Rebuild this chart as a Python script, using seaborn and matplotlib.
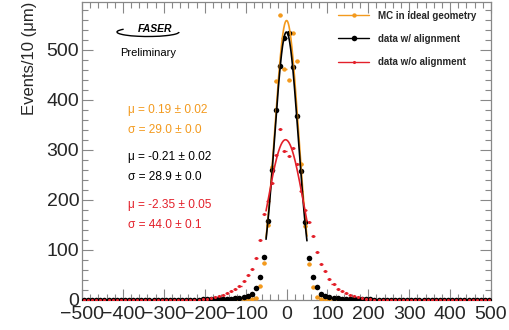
import numpy as np
import pandas as pd
import matplotlib
matplotlib.use("Agg")
import matplotlib.pyplot as plt
import seaborn as sns
from matplotlib.lines import Line2D
from matplotlib.patches import Arc
from matplotlib.ticker import MultipleLocator

# ---------------- data ----------------
bin_centers = list(range(-495, 500, 10))
pad = [0] * 29
mc_counts = pad + [0, 0, 0, 0, 0, 0, 0, 0, 0, 0, 1, 1, 2, 4, 27, 73, 150, 265, 437, 570, 461,
                   440, 533, 478, 272, 147, 72, 25, 5, 2, 1, 1, 0, 0, 0, 0, 0, 0, 0, 0, 0, 0] + pad
aligned_counts = pad + [1, 1, 1, 1, 1, 1, 2, 2, 3, 4, 5, 7, 11, 24, 45, 85, 157, 259, 380, 467, 523,
                        533, 465, 367, 257, 155, 83, 46, 26, 11, 7, 5, 4, 3, 2, 2, 1, 1, 1, 1, 1, 1] + pad
unaligned_counts = pad + [1, 2, 3, 5, 7, 10, 14, 18, 21, 27, 37, 50, 61, 83, 120, 171, 197, 233, 290, 342, 297,
                          287, 303, 272, 217, 179, 155, 127, 95, 72, 57, 42, 31, 22, 17, 13, 10, 7, 5, 3, 2, 1] + pad

series_names = ["MC in ideal geometry", "data w/ alignment", "data w/o alignment"]
fit_mu = [0.19, -0.21, -2.35]
fit_mu_err = [0.02, 0.02, 0.05]
fit_sigma = [29.0, 28.9, 44.0]
fit_sigma_err = [0.0, 0.0, 0.1]
fit_amp = [558, 535, 320]
fit_range = [-50, 50]

colors = ["#f39a1e", "#000000", "#e3202a"]

# ---------------- style ----------------
sns.set_style("ticks")
plt.rcParams["font.family"] = ["Liberation Sans", "DejaVu Sans"]

fig = plt.figure(figsize=(5.1, 3.3), dpi=100)
ax = fig.add_axes([82 / 510, 1 - 300 / 330, 409 / 510, 298 / 330])

counts = [mc_counts, aligned_counts, unaligned_counts]
msizes = [10, 16, 5]
for name, cnt, col, ms in zip(series_names, counts, colors, msizes):
    df = pd.DataFrame({"x": bin_centers, "y": cnt})
    ax.errorbar(df["x"], df["y"], xerr=5, fmt="none", ecolor=col, elinewidth=1.0, zorder=3)
    sns.scatterplot(data=df, x="x", y="y", color=col, s=ms, marker="o", linewidth=0, ax=ax, zorder=4)

for mu, sg, amp, col in zip(fit_mu, fit_sigma, fit_amp, colors):
    xs = np.linspace(fit_range[0], fit_range[1], 200)
    ys = amp * np.exp(-0.5 * ((xs - mu) / sg) ** 2)
    sns.lineplot(x=xs, y=ys, color=col, lw=1.2, ax=ax, zorder=5)

ax.set_xlim(-500, 500)
ax.set_ylim(0, 595)
ax.set_xlabel("")
ax.set_ylabel("Events/10 (μm)", loc="top", fontsize=12)
ax.yaxis.set_label_coords(-0.11, 1.0)

ax.xaxis.set_major_locator(MultipleLocator(100))
ax.xaxis.set_minor_locator(MultipleLocator(20))
ax.yaxis.set_major_locator(MultipleLocator(100))
ax.yaxis.set_minor_locator(MultipleLocator(20))
ax.tick_params(which="both", direction="in", top=True, right=True, color="#888888", width=0.8)
ax.tick_params(which="major", length=8, labelsize=14)
ax.tick_params(axis="x", which="major", pad=4)
ax.tick_params(axis="y", which="major", pad=2)
ax.tick_params(which="minor", length=4)
for sp in ax.spines.values():
    sp.set_color("#888888")
    sp.set_linewidth(0.9)

# legend
handles = [Line2D([0], [0], color=c, lw=1.0, marker="o", markersize=ms ** 0.5, markeredgewidth=0)
           for c, ms in zip(colors, msizes)]
leg = ax.legend(handles, series_names, loc="upper left", bbox_to_anchor=(0.605, 1.0),
                frameon=False, handlelength=3.2, handletextpad=0.9, labelspacing=1.35,
                prop={"weight": "bold", "size": 7})

# fit results
ytext = [110, 130, 157, 177, 205, 225]
for k, (mu, mue, sg, sge, col) in enumerate(zip(fit_mu, fit_mu_err, fit_sigma, fit_sigma_err, colors)):
    fig.text(128 / 510, 1 - ytext[2 * k] / 330, f"μ = {mu:.2f} ± {mue:.2f}",
             color=col, fontsize=8.6, ha="left", va="center")
    fig.text(128 / 510, 1 - ytext[2 * k + 1] / 330, f"σ = {sg:.1f} ± {sge:.1f}",
             color=col, fontsize=8.6, ha="left", va="center")

# FASER logo
fig.text(155 / 510, 1 - 29 / 330, "FASER", fontsize=7.5, fontstyle="italic", fontweight="heavy",
         ha="center", va="center", color="black")
arc = Arc((148 / 510, 1 - 32 / 330), 62 / 510, 9 / 330, theta1=170, theta2=360,
          transform=fig.transFigure, color="black", lw=1.0)
fig.add_artist(arc)
fig.text(148 / 510, 1 - 53 / 330, "Preliminary", fontsize=8, ha="center", va="center", color="black")

fig.savefig("out.png", dpi=100)
